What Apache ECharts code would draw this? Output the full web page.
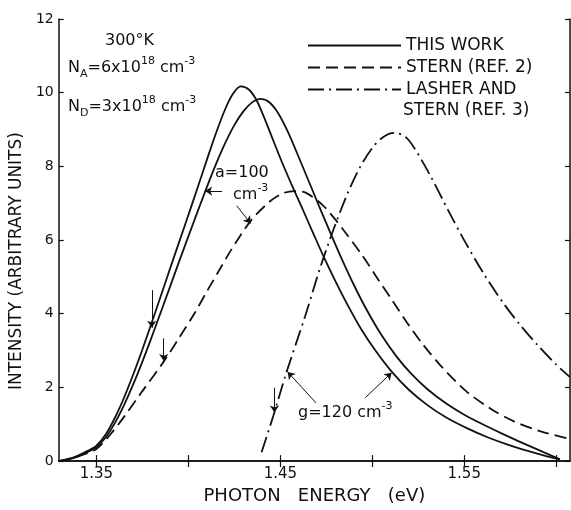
<!DOCTYPE html>
<html>
<head>
<meta charset="utf-8">
<style>
    html, body { margin: 0; padding: 0; background: #fff; }
    #chart { width: 571px; height: 510px; }
</style>
<script src="https://cdn.jsdelivr.net/npm/echarts@6/dist/echarts.min.js"></script>
</head>
<body>
<div id="chart"></div>
<script>
    // curves, [photon energy (eV), intensity]
    var thisWorkA = [
        [1.3295, 0], [1.335, 0.06], [1.340, 0.15], [1.345, 0.27], [1.350, 0.42], [1.355, 0.72],
        [1.360, 1.17], [1.365, 1.72], [1.370, 2.35], [1.375, 3.03], [1.380, 3.75], [1.385, 4.48],
        [1.390, 5.22], [1.395, 5.95], [1.400, 6.68], [1.405, 7.42], [1.410, 8.17], [1.415, 8.90],
        [1.420, 9.55], [1.424, 9.95], [1.4285, 10.17], [1.433, 10.08], [1.437, 9.80], [1.441, 9.35],
        [1.445, 8.85], [1.450, 8.22], [1.456, 7.52], [1.462, 6.85], [1.468, 6.17], [1.474, 5.50],
        [1.480, 4.88], [1.487, 4.20], [1.494, 3.58], [1.502, 2.98], [1.511, 2.40], [1.520, 1.93],
        [1.530, 1.52], [1.540, 1.19], [1.552, 0.88], [1.563, 0.64], [1.574, 0.44], [1.585, 0.27],
        [1.595, 0.13], [1.602, 0.05]
    ];
    var thisWorkB = [
        [1.3295, 0], [1.335, 0.05], [1.340, 0.13], [1.345, 0.24], [1.350, 0.38], [1.355, 0.64],
        [1.360, 1.03], [1.365, 1.52], [1.370, 2.08], [1.375, 2.70], [1.380, 3.36], [1.385, 4.04],
        [1.390, 4.73], [1.395, 5.42], [1.400, 6.10], [1.405, 6.77], [1.410, 7.43], [1.415, 8.06],
        [1.420, 8.63], [1.425, 9.12], [1.430, 9.50], [1.435, 9.75], [1.4392, 9.83], [1.444, 9.74],
        [1.449, 9.43], [1.454, 8.95], [1.459, 8.37], [1.465, 7.65], [1.471, 6.93], [1.477, 6.22],
        [1.483, 5.53], [1.490, 4.78], [1.497, 4.10], [1.505, 3.42], [1.513, 2.85], [1.521, 2.38],
        [1.530, 1.95], [1.540, 1.57], [1.550, 1.26], [1.560, 1.00], [1.570, 0.76], [1.580, 0.53],
        [1.590, 0.31], [1.602, 0.05]
    ];
    var stern = [
        [1.3295, 0], [1.340, 0.13], [1.350, 0.33], [1.358, 0.75], [1.365, 1.20], [1.375, 1.90],
        [1.3866, 2.70], [1.395, 3.35], [1.4032, 4.00], [1.410, 4.60], [1.4177, 5.26], [1.4231, 5.72],
        [1.4339, 6.52], [1.4446, 7.06], [1.452, 7.28], [1.458, 7.33], [1.464, 7.28], [1.473, 6.95],
        [1.480, 6.55], [1.4839, 6.30], [1.4946, 5.58], [1.502, 5.02], [1.511, 4.35], [1.519, 3.75],
        [1.527, 3.20], [1.537, 2.60], [1.551, 1.90], [1.565, 1.40], [1.577, 1.08], [1.592, 0.80],
        [1.6075, 0.60]
    ];
    var lasherStern = [
        [1.4398, 0.24], [1.4462, 1.23], [1.4532, 2.39], [1.4634, 3.92], [1.4720, 5.30], [1.479, 6.30],
        [1.486, 7.20], [1.493, 7.95], [1.500, 8.50], [1.506, 8.80], [1.512, 8.91], [1.518, 8.80],
        [1.5231, 8.48], [1.5323, 7.68], [1.5414, 6.79], [1.5500, 5.99], [1.5608, 5.07], [1.5715, 4.27],
        [1.580, 3.72], [1.590, 3.14], [1.600, 2.62], [1.6075, 2.28]
    ];
    var xTickValues = [1.35, 1.40, 1.45, 1.50, 1.55, 1.60];
    var xLabelValues = [1.35, 1.45, 1.55];
    var seriesNames = ['THIS WORK', 'STERN (REF. 2)', 'LASHER AND STERN (REF. 3)'];

    var ink = '#111';
    var font = 'DejaVu Sans';

    // annotation arrows in data units: [x1, y1, x2, y2], head at the second point
    var arrows = [
        [1.4183, 7.33, 1.4091, 7.33],
        [1.4263, 6.93, 1.4339, 6.45],
        [1.3801, 4.64, 1.3801, 3.62],
        [1.3866, 3.33, 1.3866, 2.72],
        [1.4468, 1.99, 1.4468, 1.32],
        [1.4694, 1.58, 1.4540, 2.42],
        [1.4962, 1.72, 1.5105, 2.40]
    ];

    var myChart = echarts.init(document.getElementById('chart'));

    function curve(name, data, type, extra) {
        var s = {
            name: name,
            type: 'line',
            data: data,
            smooth: 0.3,
            symbol: 'none',
            silent: true,
            animation: false,
            lineStyle: { color: ink, width: 1.8, type: type },
            itemStyle: { color: ink }
        };
        return Object.assign(s, extra || {});
    }

    var axisLine = { show: true, lineStyle: { color: ink, width: 1.5 } };

    var option = {
        backgroundColor: '#fff',
        animation: false,
        grid: { left: 53, right: 1, top: 19, bottom: 44 },
        legend: {
            data: seriesNames,
            orient: 'vertical',
            left: 302,
            top: 31,
            itemWidth: 93,
            itemHeight: 14,
            itemGap: 3,
            selectedMode: false,
            itemStyle: { opacity: 0 },
            textStyle: { color: ink, fontFamily: font, fontSize: 17, lineHeight: 19 },
            formatter: function (name) {
                return name === seriesNames[2] ? 'LASHER AND' : name;
            }
        },
        xAxis: [{
            type: 'value',
            min: 1.3295,
            max: 1.6075,
            axisLine: axisLine,
            splitLine: { show: false },
            axisTick: { inside: true, length: 6, lineStyle: { color: ink, width: 1.2 }, customValues: xTickValues },
            axisLabel: {
                customValues: xLabelValues,
                margin: 6,
                color: ink,
                fontFamily: font,
                fontSize: 15,
                formatter: function (v) { return v.toFixed(2); }
            },
            name: 'PHOTON   ENERGY   (eV)',
            nameLocation: 'middle',
            nameGap: 19,
            nameTextStyle: { color: ink, fontFamily: font, fontSize: 18 }
        }, {
            type: 'value',
            position: 'top',
            min: 1.3295,
            max: 1.6075,
            axisLine: axisLine,
            splitLine: { show: false },
            axisTick: { inside: true, length: 6, lineStyle: { color: ink, width: 1.2 }, customValues: xTickValues },
            axisLabel: { show: false }
        }],
        yAxis: [{
            type: 'value',
            min: 0,
            max: 12,
            interval: 2,
            axisLine: axisLine,
            splitLine: { show: false },
            axisTick: { inside: true, length: 5, lineStyle: { color: ink, width: 1.2 } },
            axisLabel: { margin: 5, color: ink, fontFamily: font, fontSize: 14 },
            name: 'INTENSITY (ARBITRARY UNITS)',
            nameLocation: 'middle',
            nameGap: 28,
            nameTextStyle: { color: ink, fontFamily: font, fontSize: 17, padding: [0, 42, 0, 0] }
        }, {
            type: 'value',
            position: 'right',
            min: 0,
            max: 12,
            interval: 2,
            axisLine: axisLine,
            splitLine: { show: false },
            axisTick: { inside: true, length: 5, lineStyle: { color: ink, width: 1.2 } },
            axisLabel: { show: false }
        }],
        series: [
            curve(seriesNames[0], thisWorkA, 'solid', {
                markLine: {
                    silent: true,
                    animation: false,
                    symbol: ['none', 'arrow'],
                    symbolSize: 7,
                    label: { show: false },
                    lineStyle: { color: ink, width: 1, type: 'solid' },
                    data: arrows.map(function (a) {
                        return [{ coord: [a[0], a[1]] }, { coord: [a[2], a[3]] }];
                    })
                }
            }),
            curve(seriesNames[0], thisWorkB, 'solid'),
            curve(seriesNames[1], stern, [12, 6]),
            curve(seriesNames[2], lasherStern, [16, 5, 2, 5])
        ],
        graphic: [
            {
                type: 'text', x: 403, y: 111,
                style: { text: 'STERN (REF. 3)', fill: ink, font: '17px ' + font, verticalAlign: 'middle' }
            },
            {
                type: 'text', x: 105, y: 41,
                style: { text: '300°K', fill: ink, font: '16px ' + font, verticalAlign: 'middle' }
            },
            {
                type: 'text', x: 68, y: 68,
                style: {
                    text: '{t|N}{sub|A}{t|=6x10}{sup|18}{t| cm}{sup|-3}',
                    verticalAlign: 'middle',
                    rich: {
                        t: { fill: ink, fontFamily: font, fontSize: 16, lineHeight: 24 },
                        sub: { fill: ink, fontFamily: font, fontSize: 11, verticalAlign: 'bottom' },
                        sup: { fill: ink, fontFamily: font, fontSize: 11, verticalAlign: 'top' }
                    }
                }
            },
            {
                type: 'text', x: 68, y: 107,
                style: {
                    text: '{t|N}{sub|D}{t|=3x10}{sup|18}{t| cm}{sup|-3}',
                    verticalAlign: 'middle',
                    rich: {
                        t: { fill: ink, fontFamily: font, fontSize: 16, lineHeight: 24 },
                        sub: { fill: ink, fontFamily: font, fontSize: 11, verticalAlign: 'bottom' },
                        sup: { fill: ink, fontFamily: font, fontSize: 11, verticalAlign: 'top' }
                    }
                }
            },
            {
                type: 'text', x: 215, y: 173,
                style: { text: 'a=100', fill: ink, font: '16px ' + font, verticalAlign: 'middle' }
            },
            {
                type: 'text', x: 233, y: 195,
                style: {
                    text: '{t|cm}{sup|-3}',
                    verticalAlign: 'middle',
                    rich: {
                        t: { fill: ink, fontFamily: font, fontSize: 16, lineHeight: 24 },
                        sup: { fill: ink, fontFamily: font, fontSize: 11, verticalAlign: 'top' }
                    }
                }
            },
            {
                type: 'text', x: 298, y: 413,
                style: {
                    text: '{t|g=120 cm}{sup|-3}',
                    verticalAlign: 'middle',
                    rich: {
                        t: { fill: ink, fontFamily: font, fontSize: 16, lineHeight: 24 },
                        sup: { fill: ink, fontFamily: font, fontSize: 11, verticalAlign: 'top' }
                    }
                }
            }
        ]
    };

    myChart.setOption(option);
    window.addEventListener('resize', function () {
        myChart.resize();
    });
</script>
</body>
</html>
